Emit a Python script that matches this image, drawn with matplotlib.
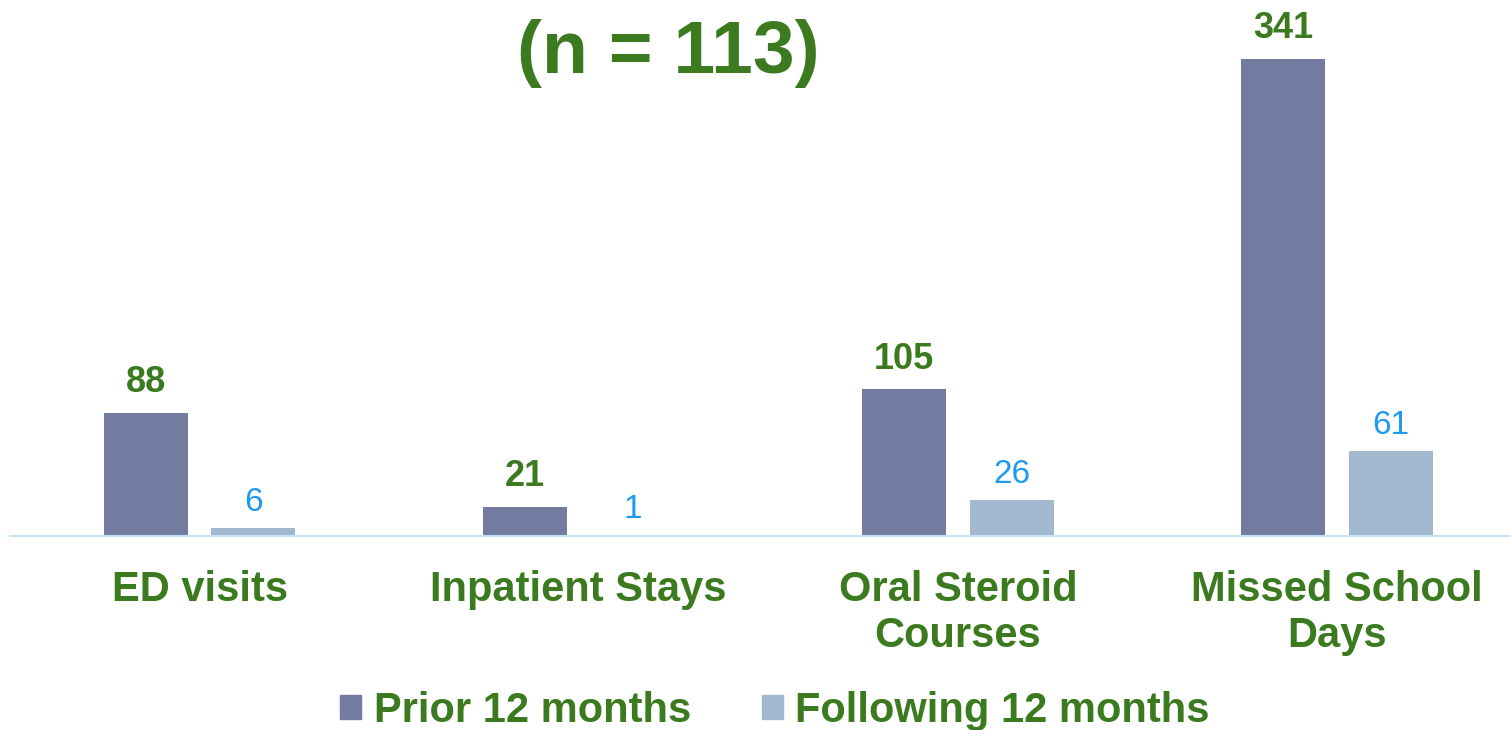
import matplotlib.pyplot as plt
import numpy as np
from matplotlib.patches import Patch

plt.rcParams['font.family'] = ['Liberation Sans', 'DejaVu Sans']

categories = ['ED visits', 'Inpatient Stays', 'Oral Steroid\nCourses', 'Missed School\nDays']
prior = [88, 21, 105, 341]
following = [6, 1, 26, 61]
series_names = ['Prior 12 months', 'Following 12 months']

dark = '#737ca0'
light = '#a2b8cf'
green = '#3b7a1f'
blue = '#1e9bf0'

fig = plt.figure(figsize=(15.11, 7.3), dpi=100)
ax = fig.add_axes([10 / 1511, (730 - 536) / 730, 1 - 10 / 1511, 536 / 730])

x = np.arange(len(categories))
w = 0.222
off = 0.142
ax.bar(x - off, prior, w, color=dark)
ax.bar(x + off, following, w, color=light)

for xi, v in zip(x, prior):
    ax.annotate(str(v), (xi - off, v), xytext=(0, 9), textcoords='offset points',
                ha='center', va='bottom', fontsize=26, fontweight='bold', color=green)
for xi, v in zip(x, following):
    ax.annotate(str(v), (xi + off, v), xytext=(0, 7), textcoords='offset points',
                ha='center', va='bottom', fontsize=24, color=blue)

for xi, lab in zip(x, categories):
    ax.text(xi, -0.063, lab, transform=ax.get_xaxis_transform(), ha='center', va='top',
            fontsize=30, fontweight='bold', color=green, linespacing=1.2)

ax.set_xlim(-0.5, 3.459)
ax.set_ylim(0, 383)
for s in ['top', 'right', 'left']:
    ax.spines[s].set_visible(False)
ax.spines['bottom'].set_color('#c5e3f5')
ax.spines['bottom'].set_linewidth(1.5)
ax.set_xticks([])
ax.set_yticks([])

fig.text(668 / 1511, 1 - 54 / 730, '(n = 113)', ha='center', va='center',
         fontsize=54, fontweight='bold', color=green)

handles = [Patch(color=dark), Patch(color=light)]
leg = fig.legend(handles, series_names, loc='center', bbox_to_anchor=(775 / 1511, 1 - 711 / 730),
                 ncol=2, frameon=False, handlelength=0.5, handleheight=0.5,
                 handletextpad=0.3, columnspacing=1.7,
                 prop={'size': 30, 'weight': 'bold'})
for t in leg.get_texts():
    t.set_color(green)

fig.savefig('out.png', dpi=100)
